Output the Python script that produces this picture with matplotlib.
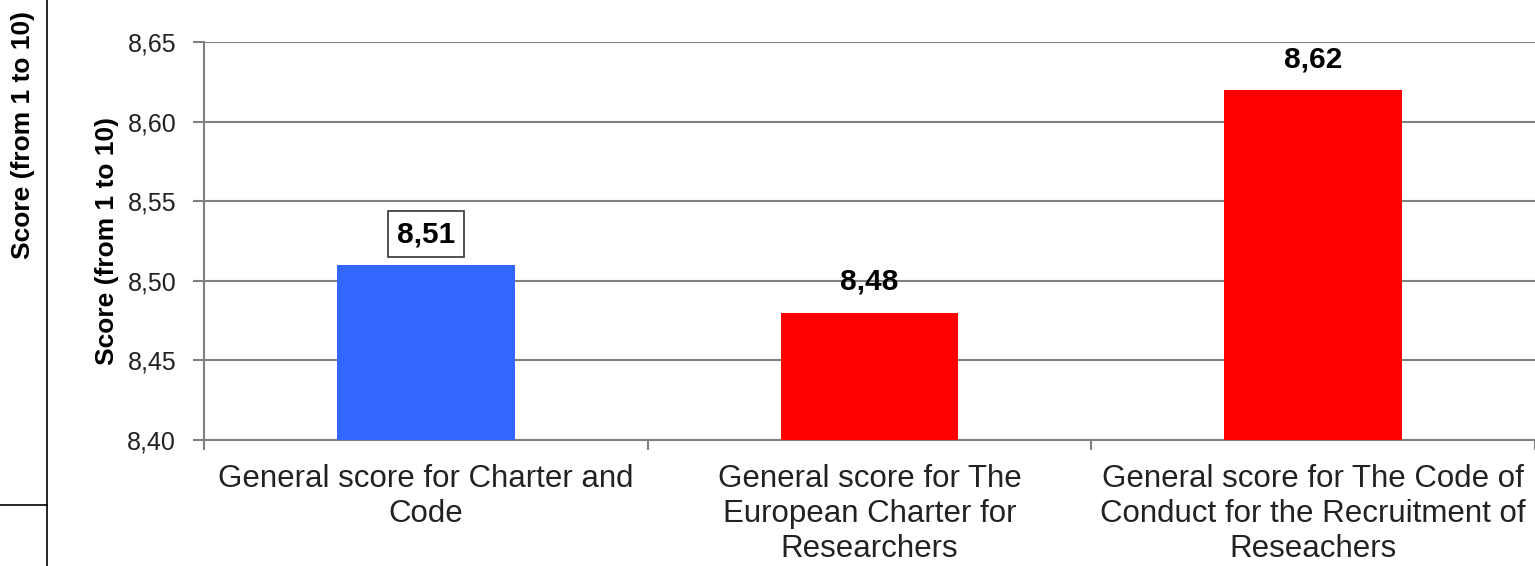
import matplotlib
matplotlib.use("Agg")
import matplotlib.pyplot as plt
from matplotlib.lines import Line2D
from matplotlib.ticker import FixedLocator, FuncFormatter

plt.rcParams['font.family'] = ['Liberation Sans', 'DejaVu Sans']

categories = [
    "General score for Charter and\nCode",
    "General score for The\nEuropean Charter for\nResearchers",
    "General score for The Code of\nConduct for the Recruitment of\nReseachers",
]
values = [8.51, 8.48, 8.62]
value_labels = ["8,51", "8,48", "8,62"]
bar_colors = ["#3366FF", "#FF0000", "#FF0000"]
y_ticks = [8.40, 8.45, 8.50, 8.55, 8.60, 8.65]
y_label = "Score (from 1 to 10)"

W, H = 1535, 566
fig = plt.figure(figsize=(W / 100, H / 100), dpi=100)
ax = fig.add_axes([204 / W, 1 - 440 / H, 1 - 204 / W, (440 - 42) / H])

x = list(range(len(categories)))
ax.bar(x, [v - y_ticks[0] for v in values], bottom=y_ticks[0], width=0.4,
       color=bar_colors, zorder=3)

ax.set_xlim(-0.5, len(categories) - 0.5)
ax.set_ylim(y_ticks[0], y_ticks[-1])
ax.set_yticks(y_ticks)
ax.yaxis.set_major_formatter(FuncFormatter(lambda v, p: f"{v:.2f}".replace(".", ",")))
ax.yaxis.grid(True, color="#808080", linewidth=1.5, zorder=0)
ax.set_axisbelow(True)

ax.set_xticks(x)
ax.set_xticklabels(categories, fontsize=22.5, linespacing=1.22, color="#222222")
ax.xaxis.set_minor_locator(FixedLocator([i - 0.5 for i in range(len(categories) + 1)]))
ax.tick_params(axis='x', which='major', length=0, pad=17)
ax.tick_params(axis='x', which='minor', length=7, width=1.5, color="#808080", direction='out')
ax.tick_params(axis='y', length=8, width=1.5, color="#808080", labelsize=18, pad=12,
               labelcolor="#222222")

for s in ["top", "right"]:
    ax.spines[s].set_visible(False)
for s in ["left", "bottom"]:
    ax.spines[s].set_color("#808080")
    ax.spines[s].set_linewidth(1.5)

ax.set_ylabel(y_label, fontsize=19, fontweight='bold', labelpad=6)

for i, (v, lab) in enumerate(zip(values, value_labels)):
    kw = {}
    if i == 0:
        kw['bbox'] = dict(boxstyle='square,pad=0.3', facecolor='white', edgecolor='#333333', linewidth=1.2)
    ax.annotate(lab, xy=(i, v), xytext=(0, 12), textcoords='offset points',
                ha='center', va='bottom', fontsize=21.5, fontweight='bold', color='black', **kw)

# Outer frame elements
fig.add_artist(Line2D([47 / W, 47 / W], [0, 1], transform=fig.transFigure, color='black', linewidth=1.2))
fig.add_artist(Line2D([0, 47 / W], [1 - 505 / H, 1 - 505 / H], transform=fig.transFigure, color='black', linewidth=1.2))
fig.text(23 / W, 1 - 135 / H, y_label, rotation=90, ha='center', va='center',
         fontsize=19, fontweight='bold', color='black')

fig.savefig("out.png", dpi=100)
